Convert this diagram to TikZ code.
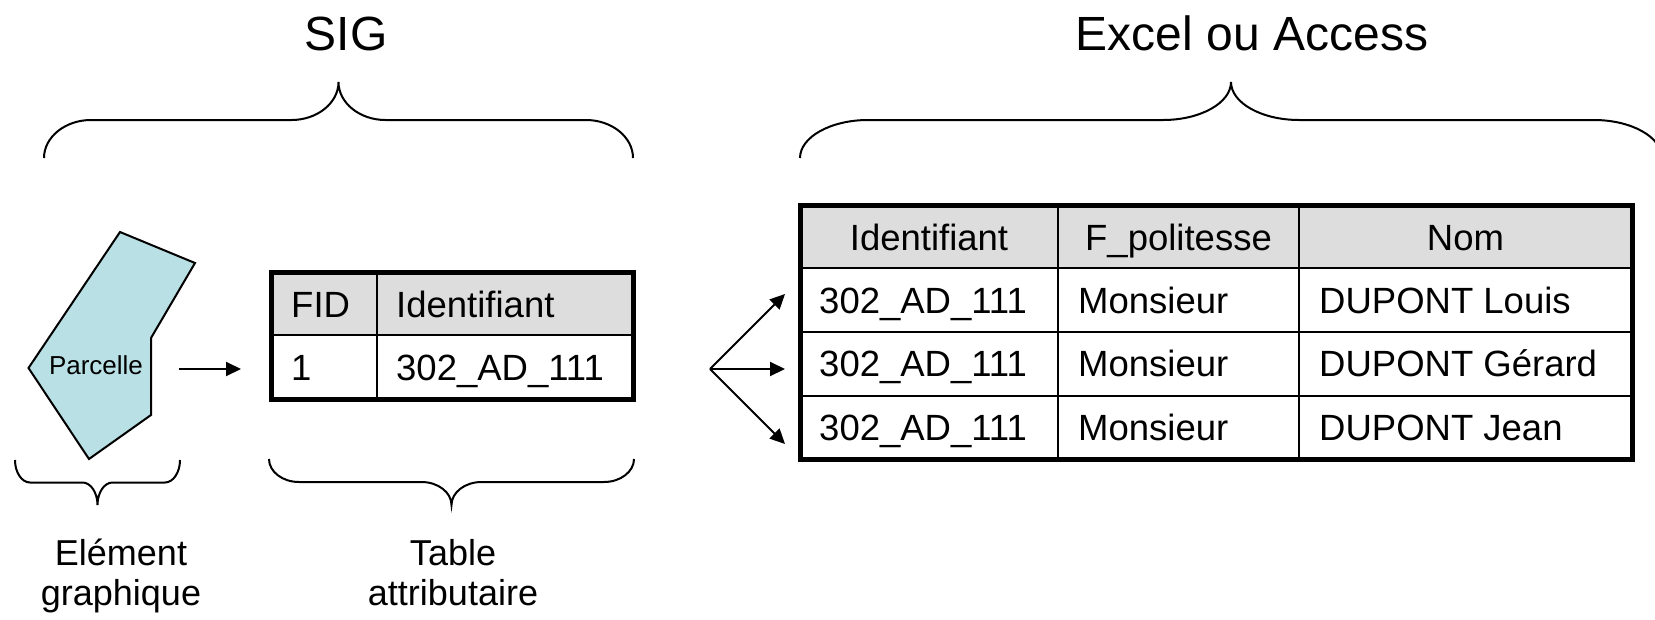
\documentclass[tikz,border=0pt]{standalone}
\usepackage{fontspec}
\setmainfont{Liberation Sans}
\usetikzlibrary{arrows.meta}
\definecolor{parcelfill}{RGB}{185,224,228}
\definecolor{headgray}{RGB}{221,221,221}
% curly brace: #1 left x, #2 right x, #3 y of the ends, #4 half depth (<0: tip up), #5 bend width
\def\hbrace#1#2#3#4#5{%
  \pgfmathsetmacro\bmid{(#1+#2)/2}%
  \draw[brace] (#1,#3) .. controls (#1,{#3+0.55*(#4)}) and ({#1+0.45*#5},{#3+(#4)}) .. ({#1+#5},{#3+(#4)})
    -- ({\bmid-#5},{#3+(#4)}) .. controls ({\bmid-0.45*#5},{#3+(#4)}) and (\bmid,{#3+1.45*(#4)}) .. (\bmid,{#3+2*(#4)})
    .. controls (\bmid,{#3+1.45*(#4)}) and ({\bmid+0.45*#5},{#3+(#4)}) .. ({\bmid+#5},{#3+(#4)})
    -- ({#2-#5},{#3+(#4)}) .. controls ({#2-0.45*#5},{#3+(#4)}) and (#2,{#3+0.55*(#4)}) .. (#2,#3);}

\begin{document}
\begin{tikzpicture}[x=1pt,y=-1pt,
    brace/.style={line width=2pt},
    heading/.style={inner sep=0pt,font=\fontsize{48}{52}\selectfont},
    caption/.style={inner sep=0pt,align=center,font=\fontsize{36}{40}\selectfont},
    cell/.style={inner sep=0pt,font=\fontsize{36.5}{40}\selectfont},
    innerline/.style={line width=2.5pt},
    outerline/.style={line width=5pt},
    link/.style={line width=2pt,-{Triangle[length=15pt,width=14pt]}}]
\useasboundingbox (0,0) rectangle (1655,619);

% titles and braces
\node[heading,anchor=base] (sig) at (346,50) {SIG};
\node[heading,anchor=base] (xl) at (1252,50) {Excel ou Access};
\hbrace{44}{633}{158}{-38}{47}
\hbrace{800}{1662}{158}{-38}{68}
\hbrace{15}{180}{460}{22.5}{15}
\hbrace{269}{634}{459}{23}{30}
% base of a two-line node sits on its last line
\node[caption,anchor=base] (elem) at (121,605) {Elément\\graphique};
\node[caption,anchor=base] (tabattr) at (453,605) {Table\\attributaire};

% the parcel
\draw[fill=parcelfill,line width=2pt] (120,232) -- (195,263) -- (151,338) -- (151,415)
    -- (89,459) -- (28.5,368) -- cycle;
\node[inner sep=0pt,font=\fontsize{26}{28}\selectfont,anchor=base] (parc) at (96,374) {Parcelle};
\coordinate (parcR) at (179,369);
\coordinate (attrL) at (241,369);
\draw[link] (parcR) -- (attrL);

% attribute table
\fill[headgray] (271,272) rectangle (633,335);
\draw[innerline] (271,335) -- (633,335) (377,272) -- (377,399);
\draw[outerline] (271,272) rectangle (633,399);
\node[cell,anchor=base west] (fid) at (291,317) {FID};
\node[cell,anchor=base west] (ident) at (396,317) {Identifiant};
\node[cell,anchor=base west] (one) at (291,380) {1};
\node[cell,anchor=base west] (idval) at (396,380) {302\_AD\_111};

% one id, three records
\coordinate (fan) at (710,369);
\foreach \t/\y in {1/294,2/369,3/444}{
  \coordinate (in\t) at (785,\y);
  \draw[link] (fan) -- (in\t);
}

% owners table
\fill[headgray] (800,205) rectangle (1632,268);
\draw[innerline] (800,268) -- (1632,268) (800,332) -- (1632,332) (800,396) -- (1632,396)
    (1058,205) -- (1058,459) (1299,205) -- (1299,459);
\draw[outerline] (800,205) rectangle (1632,459);
\node[cell,anchor=base] (hid) at (929,250) {Identifiant};
\node[cell,anchor=base] (hciv) at (1178.5,250) {F\_politesse};
\node[cell,anchor=base] (hnom) at (1465.5,250) {Nom};
\foreach \nm [count=\r] in {Louis,Gérard,Jean}{
  \pgfmathsetmacro\yb{249.5+63.5*\r}
  \node[cell,anchor=base west] (id\r) at (819,\yb) {302\_AD\_111};
  \node[cell,anchor=base west] (civ\r) at (1078,\yb) {Monsieur};
  \node[cell,anchor=base west] (nom\r) at (1319,\yb) {DUPONT \nm};
}
\end{tikzpicture}
\end{document}
